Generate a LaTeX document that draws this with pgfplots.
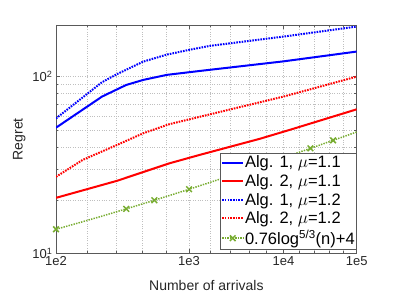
\documentclass[border=0pt]{standalone}
\usepackage{fontspec}
\setmainfont{Liberation Sans}
\usepackage{pgfplots}
\pgfplotsset{compat=1.18}
\definecolor{mgreen}{rgb}{0.466,0.674,0.188}
\definecolor{axgray}{rgb}{0.35,0.35,0.35}
\begin{document}
\begin{tikzpicture}
\path[use as bounding box] (0pt,0pt) rectangle (399pt,299pt);
\begin{axis}[
  at={(56pt,45.7pt)}, anchor=south west,
  width=300.7pt, height=228.3pt, scale only axis,
  xmode=log, ymode=log,
  xmin=2, xmax=5, ymin=10, ymax=196,
  xtick={2,3,4,5}, xticklabels={1e2,1e3,1e4,1e5},
  minor xtick={2.2,2.4,2.6,2.8,3.2,3.4,3.6,3.8,4.2,4.4,4.6,4.8},
  ytick={10,100}, yticklabels={10\textsuperscript{1},10\textsuperscript{2}},
  minor ytick={20,30,40,50,60,70,80,90},
  tick align=inside, xtick pos=both, ytick pos=both,
  major tick length=4pt, minor tick length=2.5pt,
  every tick/.style={axgray, line width=0.5pt},
  axis line style={axgray, line width=0.6pt},
  grid=both,
  major grid style={black!25, line width=0.5pt, dash pattern=on 0.8pt off 1.6pt},
  minor grid style={black!25, line width=0.5pt, dash pattern=on 0.8pt off 1.6pt},
  tick label style={font=\fontsize{13}{15}\selectfont, text=black!85},
  label style={font=\fontsize{14}{16}\selectfont, text=black!85},
  xlabel={Number of arrivals}, ylabel={Regret},
  xlabel style={yshift=-7pt},
  legend style={at={(rel axis cs:1,0.0175)}, anchor=south east, draw=axgray,
    font=\fontsize{16.5}{19}\selectfont, row sep=3.5pt, inner xsep=1pt, inner ysep=2pt,
    nodes={inner sep=0.8pt}},
  legend cell align=left,
  legend image code/.code={\draw[mark repeat=2,mark phase=2] plot coordinates {(0cm,0cm) (0.37cm,0cm) (0.74cm,0cm)};},
]
\addplot[blue, line width=2pt] coordinates {
 (2,51.4) (2.301,77.1) (2.477,89.7) (2.609,95.8) (2.803,102.3) (3.102,107.7) (4,122) (5,138.6)};
\addlegendentry{Alg. 1, $\mu$=1.1}
\addplot[red, line width=2pt] coordinates {
 (2,20.6) (2.407,25.7) (2.825,32.3) (3.102,36.1) (3.724,44.5) (4.08,50) (5,65.3)};
\addlegendentry{Alg. 2, $\mu$=1.1}
\addplot[blue, line width=2pt, dash pattern=on 1.6pt off 1.1pt] coordinates {
 (2,58) (2.301,93) (2.407,103.2) (2.609,121.6) (2.803,133.2) (2.997,141.6) (3.197,149.3) (4,168.5) (5,192)};
\addlegendentry{Alg. 1, $\mu$=1.2}
\addplot[red, line width=2pt, dash pattern=on 1.6pt off 1.1pt] coordinates {
 (2,27.1) (2.17,33.8) (2.407,41.0) (2.609,47.8) (2.825,53.8) (3.102,59.3) (4,77.1) (5,100)};
\addlegendentry{Alg. 2, $\mu$=1.2}
\addplot[mgreen, line width=1.5pt, dash pattern=on 1.4pt off 1.2pt, forget plot] coordinates {
 (2,13.68) (2.1761,15.15) (2.301,16.24) (2.4771,17.84) (2.699,19.97) (2.8451,21.43) (3,23.04)
 (3.301,26.34) (3.4771,28.35) (3.699,31.00) (4,34.76) (4.3424,39.27) (4.6532,43.57) (5,48.6)};
\addplot[mgreen, line width=1.5pt, only marks, mark=x, mark size=4pt,
  legend image code/.code={
    \draw[mgreen,line width=1.5pt,dash pattern=on 1.4pt off 1.2pt] (0cm,0cm) -- (0.74cm,0cm);
    \draw[mgreen,line width=1.5pt,solid] plot[only marks,mark=x,mark size=4pt] coordinates {(0.37cm,0cm)};}]
 coordinates {(2,13.68) (2.4771,17.84) (2.699,19.97) (3,23.04) (4.3424,39.27) (4.6532,43.57)};
\addlegendentry{0.76log\textsuperscript{5/3}(n)+4}
\end{axis}
\end{tikzpicture}
\end{document}
